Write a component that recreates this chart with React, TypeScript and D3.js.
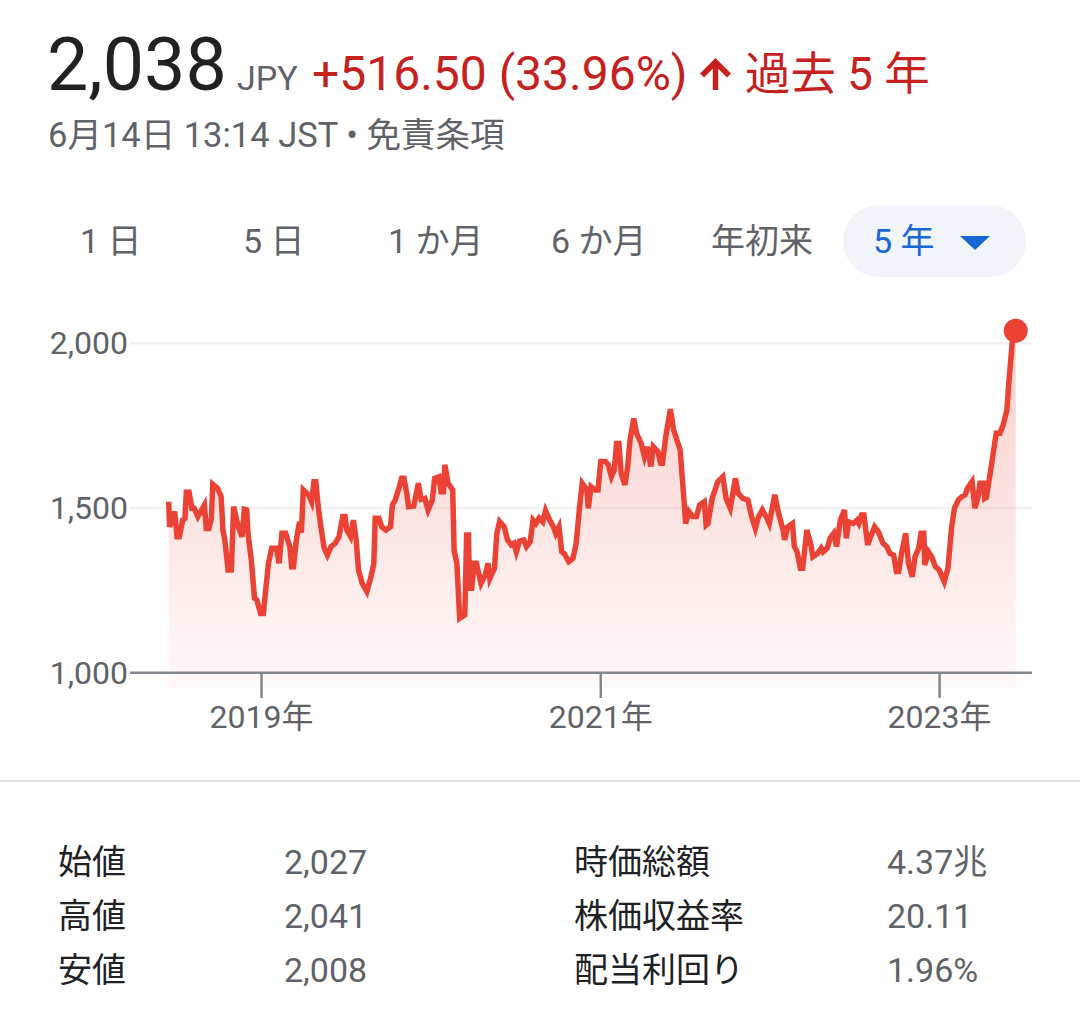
import React from "react";
import * as d3 from "d3";

// ---- data ----
const startDate = "2018-06-15";
const dayOffsets = [
  0, 2, 13, 18, 23, 30, 35, 38, 44, 50, 55, 63, 71, 77, 81, 87, 92, 95, 105, 113,
  117, 121, 128, 135, 140, 150, 158, 163, 168, 171, 178, 185, 190, 198, 204, 209, 215, 222, 232, 238,
  244, 252, 261, 265, 269, 275, 282, 286, 290, 302, 308, 313, 317, 323, 328, 335, 342, 350, 359, 367,
  375, 380, 384, 392, 398, 404, 409, 417, 427, 436, 442, 445, 453, 459, 468, 478, 482, 488, 496, 502,
  507, 513, 517, 528, 538, 544, 552, 559, 568, 573, 582, 587, 592, 595, 602, 607, 612, 615, 621, 627,
  638, 642, 646, 648, 653, 658, 663, 673, 682, 688, 692, 702, 707, 713, 723, 730, 738, 744, 749, 756,
  765, 771, 779, 785, 791, 798, 806, 812, 821, 829, 834, 841, 847, 852, 862, 871, 878, 885, 891, 901,
  904, 910, 919, 925, 931, 941, 947, 954, 960, 965, 970, 975, 983, 989, 994, 1002, 1008, 1018, 1025, 1031,
  1039, 1044, 1054, 1060, 1064, 1071, 1081, 1088, 1094, 1102, 1108, 1114, 1121, 1129, 1137, 1144, 1154, 1158, 1162, 1171,
  1183, 1194, 1201, 1210, 1221, 1227, 1237, 1248, 1256, 1264, 1271, 1279, 1289, 1294, 1306, 1314, 1324, 1327, 1334, 1344,
  1348, 1354, 1361, 1366, 1375, 1383, 1388, 1398, 1406, 1410, 1419, 1425, 1433, 1439, 1447, 1456, 1460, 1465, 1475, 1483,
  1487, 1493, 1498, 1506, 1514, 1521, 1529, 1539, 1547, 1554, 1562, 1568, 1573, 1579, 1588, 1594, 1602, 1608, 1616, 1621,
  1627, 1629, 1637, 1644, 1652, 1660, 1671, 1679, 1687, 1693, 1702, 1710, 1716, 1721, 1731, 1737, 1744, 1748, 1756, 1758,
  1762, 1771, 1783, 1791, 1798, 1806, 1810, 1818, 1825,
];
const prices = [
  1519, 1443, 1489, 1413, 1413, 1463, 1468, 1548, 1548, 1499, 1499, 1474, 1494, 1509, 1438, 1438, 1469, 1572, 1560, 1535,
  1433, 1403, 1312, 1312, 1504, 1443, 1413, 1496, 1494, 1423, 1342, 1226, 1221, 1180, 1180, 1251, 1332, 1378, 1378, 1332,
  1423, 1423, 1383, 1322, 1322, 1403, 1458, 1425, 1555, 1539, 1519, 1580, 1580, 1494, 1443, 1378, 1357, 1383, 1393, 1413,
  1474, 1474, 1433, 1413, 1463, 1403, 1312, 1271, 1246, 1292, 1332, 1469, 1469, 1443, 1433, 1443, 1509, 1524, 1560, 1590,
  1590, 1545, 1504, 1506, 1575, 1526, 1529, 1494, 1524, 1590, 1595, 1549, 1549, 1631, 1575, 1565, 1555, 1372, 1332, 1165,
  1175, 1418, 1418, 1256, 1256, 1332, 1332, 1271, 1297, 1332, 1286, 1317, 1423, 1459, 1443, 1403, 1388, 1393, 1367, 1400,
  1403, 1383, 1398, 1463, 1453, 1469, 1458, 1492, 1463, 1443, 1423, 1443, 1367, 1362, 1337, 1347, 1393, 1499, 1575, 1555,
  1499, 1565, 1555, 1555, 1641, 1641, 1631, 1595, 1615, 1696, 1696, 1605, 1570, 1626, 1706, 1772, 1727, 1696, 1656, 1686,
  1626, 1686, 1671, 1636, 1636, 1717, 1800, 1737, 1711, 1676, 1565, 1453, 1489, 1474, 1474, 1509, 1519, 1448, 1453, 1529,
  1580, 1595, 1529, 1499, 1590, 1545, 1529, 1524, 1474, 1438, 1474, 1494, 1469, 1453, 1540, 1484, 1433, 1403, 1443, 1453,
  1383, 1367, 1317, 1317, 1433, 1393, 1352, 1362, 1378, 1367, 1378, 1408, 1423, 1383, 1463, 1494, 1408, 1458, 1453, 1463,
  1453, 1479, 1479, 1388, 1418, 1443, 1428, 1393, 1383, 1362, 1357, 1307, 1307, 1362, 1423, 1332, 1291, 1352, 1378, 1423,
  1423, 1327, 1367, 1352, 1322, 1312, 1276, 1317, 1443, 1499, 1526, 1535, 1540, 1560, 1580, 1499, 1535, 1575, 1575, 1529,
  1532, 1615, 1727, 1727, 1752, 1797, 1878, 2010, 2038,
];

const yTicks = [1000, 1500, 2000];
const xTickDates = ["2019-01-01", "2021-01-01", "2023-01-01"];
const xTickLabels = ["2019年", "2021年", "2023年"];

const tabs = ["1 日", "5 日", "1 か月", "6 か月", "年初来"];
const activeTab = "5 年";

const statLabelsLeft = ["始値", "高値", "安値"];
const statValuesLeft = ["2,027", "2,041", "2,008"];
const statLabelsRight = ["時価総額", "株価収益率", "配当利回り"];
const statValuesRight = ["4.37兆", "20.11", "1.96%"];

const FONT = "Roboto, 'Noto Sans CJK JP', sans-serif";
const RED = "#ea4335";
const TEXT_RED = "#c5221f";
const GRAY = "#5f6368";

export default function App() {
  const parse = d3.utcParse("%Y-%m-%d");
  const start = parse(startDate)!;
  const data = prices.map((v, i) => ({ date: d3.utcDay.offset(start, dayOffsets[i]), value: v }));

  const x = d3
    .scaleUtc()
    .domain([parse("2019-01-01")!, parse("2023-01-01")!])
    .range([261.5, 939.6]);
  const y = d3.scaleLinear().domain([1000, 2000]).range([672.7, 343.3]);

  const line = d3
    .line<{ date: Date; value: number }>()
    .x((d) => x(d.date))
    .y((d) => y(d.value));
  const area = d3
    .area<{ date: Date; value: number }>()
    .x((d) => x(d.date))
    .y0(688)
    .y1((d) => y(d.value));

  const last = data[data.length - 1];
  const tabX = [80, 243, 388, 551, 711];

  return (
    <svg
      width={1080}
      height={1009}
      style={{ position: "absolute", left: 0, top: 0, background: "#fff" }}
      fontFamily={FONT}
    >
      <rect width={1080} height={1009} fill="#fff" />
      {/* Header */}
      <text x={47} y={90} fontSize={73.5} fill="#202124">2,038</text>
      <text x={237} y={90} fontSize={34} fill={GRAY}>JPY</text>
      <text x={312} y={90} fontSize={48} fill={TEXT_RED}>+516.50 (33.96%)</text>
      <path
        d="M715.5 58 L700 73.5 L704 77.5 L712.8 68.7 L712.8 90 L718.2 90 L718.2 68.7 L727 77.5 L731 73.5 Z"
        fill={TEXT_RED}
      />
      <text x={745} y={90} fontSize={45.5} fill={TEXT_RED}>過去 5 年</text>
      <text x={48} y={147} fontSize={34.5} fill={GRAY}>6月14日 13:14 JST • 免責条項</text>

      {/* Tabs */}
      {tabs.map((t, i) => (
        <text key={t} x={tabX[i]} y={253} fontSize={34} fill={GRAY}>{t}</text>
      ))}
      <rect x={843} y={205} width={183} height={72} rx={36} fill="#f1f4f9" />
      <text x={873} y={253} fontSize={34} fill="#1967d2">{activeTab}</text>
      <path d="M960 236 L990 236 L975 250 Z" fill="#1967d2" />

      {/* Chart */}
      <defs>
        <linearGradient id="fillGrad" gradientUnits="userSpaceOnUse" x1={0} y1={331} x2={0} y2={688}>
          <stop offset="0" stopColor={RED} stopOpacity={0.26} />
          <stop offset="1" stopColor={RED} stopOpacity={0.03} />
        </linearGradient>
      </defs>
      {yTicks.slice(1).map((t) => (
        <line key={t} x1={130} x2={1032} y1={y(t)} y2={y(t)} stroke="#f1f1f1" strokeWidth={2.5} />
      ))}
      <path d={area(data) || ""} fill="url(#fillGrad)" />
      <line x1={130} x2={1032} y1={y(1000)} y2={y(1000)} stroke="#80868b" strokeWidth={2.5} />
      {xTickDates.map((d, i) => {
        const xx = x(parse(d)!);
        return (
          <g key={d}>
            <line x1={xx} x2={xx} y1={y(1000)} y2={698} stroke="#80868b" strokeWidth={2.5} />
            <text x={xx} y={728} fontSize={32} fill={GRAY} textAnchor="middle">{xTickLabels[i]}</text>
          </g>
        );
      })}
      {yTicks.map((t) => (
        <text key={t} x={128} y={y(t) + 11} fontSize={32} fill={GRAY} textAnchor="end">
          {d3.format(",")(t)}
        </text>
      ))}
      <path d={line(data) || ""} fill="none" stroke={RED} strokeWidth={5.5} strokeLinejoin="miter" />
      <circle cx={x(last.date)} cy={y(last.value)} r={12} fill={RED} />

      {/* Divider */}
      <line x1={0} x2={1080} y1={781} y2={781} stroke="#e3e3e3" strokeWidth={2} />

      {/* Stats */}
      {statLabelsLeft.map((l, i) => (
        <g key={l}>
          <text x={58} y={874 + i * 54} fontSize={34} fill="#202124">{l}</text>
          <text x={284} y={874 + i * 54} fontSize={34} fill={GRAY}>{statValuesLeft[i]}</text>
          <text x={574} y={874 + i * 54} fontSize={34} fill="#202124">{statLabelsRight[i]}</text>
          <text x={887} y={874 + i * 54} fontSize={34} fill={GRAY}>{statValuesRight[i]}</text>
        </g>
      ))}
    </svg>
  );
}
